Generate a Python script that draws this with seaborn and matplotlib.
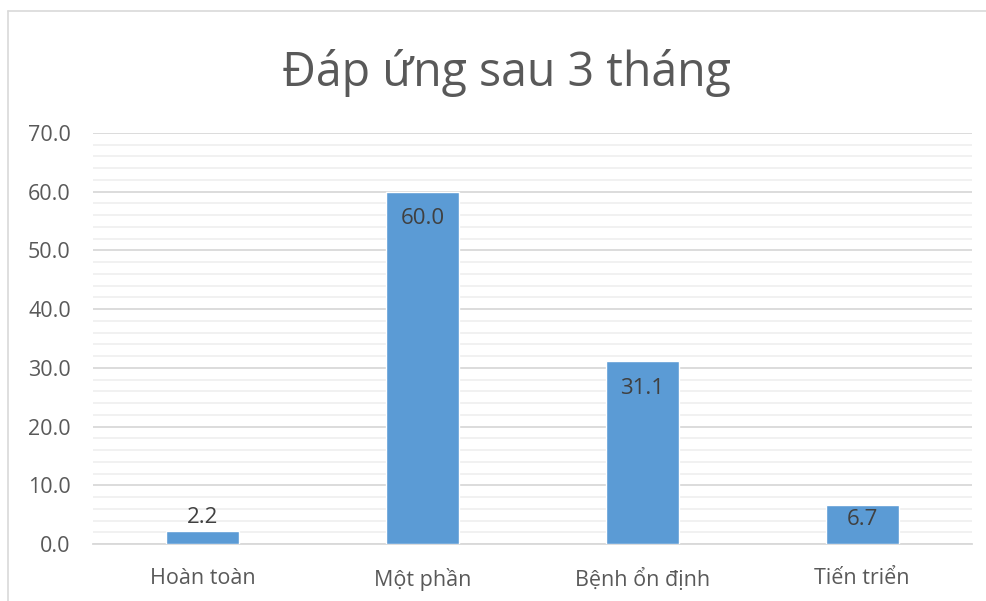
import matplotlib
matplotlib.use("Agg")
import matplotlib.pyplot as plt
from matplotlib.lines import Line2D
from matplotlib.ticker import MultipleLocator, FormatStrFormatter
import seaborn as sns
import pandas as pd

categories = ["Hoàn toàn", "Một phần", "Bệnh ổn định", "Tiến triển"]
values = [2.2, 60.0, 31.1, 6.7]
title = "Đáp ứng sau 3 tháng"

sns.set_theme(style="white")
plt.rcParams["font.family"] = ["Open Sans", "DejaVu Sans"]

df = pd.DataFrame({"category": categories, "value": values})

fig = plt.figure(figsize=(9.87, 6.01), dpi=100)
ax = fig.add_axes([0.0942, 0.0948, 0.8906, 0.6839])

sns.barplot(data=df, x="category", y="value", color="#5b9bd5",
            width=0.333, saturation=1, ax=ax, zorder=3)

ax.set_ylim(0, 70)
ax.set_xlim(-0.5, 3.5)
ax.yaxis.set_major_locator(MultipleLocator(10))
ax.yaxis.set_minor_locator(MultipleLocator(2))
ax.yaxis.set_major_formatter(FormatStrFormatter("%.1f"))
ax.grid(which="major", axis="y", color="#d9d9d9", linewidth=1.3, zorder=0)
ax.grid(which="minor", axis="y", color="#f0f0f0", linewidth=1.3, zorder=0)
ax.set_axisbelow(True)
for s in ["top", "right", "left"]:
    ax.spines[s].set_visible(False)
ax.spines["bottom"].set_color("#d9d9d9")
ax.spines["bottom"].set_linewidth(1.3)
ax.tick_params(axis="both", which="both", length=0, colors="#595959", labelsize=15.5)
ax.tick_params(axis="y", pad=16)
ax.tick_params(axis="x", pad=17)
ax.set_xlabel("")
ax.set_ylabel("")

# value labels: inside the bar top, or just above when the bar is too short
for i, v in enumerate(values):
    if v > 5:
        inset = -12 if v > 10 else -3
        ax.annotate(f"{v:.1f}", (i, v), xytext=(0, inset), textcoords="offset points",
                    ha="center", va="top", fontsize=16, color="#404040")
    else:
        ax.annotate(f"{v:.1f}", (i, v), xytext=(0, 2), textcoords="offset points",
                    ha="center", va="bottom", fontsize=16, color="#404040")

fig.text(0.513, 0.878, title, ha="center", va="center", fontsize=33.5, color="#595959")

# chart frame
fig.add_artist(Line2D([0.0081, 1.0], [0.9817, 0.9817], transform=fig.transFigure,
                      color="#d9d9d9", linewidth=1.2))
fig.add_artist(Line2D([0.0081, 0.0081], [0.0, 0.9817], transform=fig.transFigure,
                      color="#d9d9d9", linewidth=1.2))

fig.savefig("out.png", dpi=100)
